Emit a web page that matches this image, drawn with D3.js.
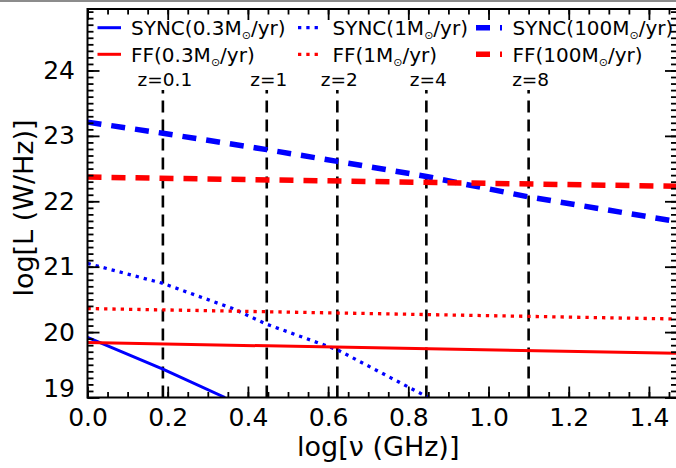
<!DOCTYPE html>
<html>
<head>
<meta charset="utf-8">
<script src="https://cdn.jsdelivr.net/npm/d3@7"></script>
<style>
  body { margin: 0; background: #fff; }
  text { font-family: "DejaVu Sans", sans-serif; }
</style>
</head>
<body>
<script>
// données : [log nu (GHz), log L (W/Hz)]
var sync03 = [[0, 19.92], [0.188, 19.435], [0.343, 19.0]]
var sync1 = [[0, 21.05], [0.188, 20.745], [0.362, 20.36], [0.447, 20.12], [0.623, 19.73], [0.85, 19.0]]
var sync100 = [[0, 23.21], [0.188, 23.04], [0.447, 22.79], [0.623, 22.61], [0.845, 22.38], [1.098, 22.07], [1.47, 21.69]]
var ff03 = [[0, 19.84], [1.47, 19.675]]
var ff1 = [[0, 20.36], [1.47, 20.20]]
var ff100 = [[0, 22.37], [1.47, 22.23]]

// raies verticales des redshifts
var zLabels = ["z=0.1", "z=1", "z=2", "z=4", "z=8"]
var zNu = [0.188, 0.447, 0.623, 0.845, 1.100]
var zTop = 23.7

// légende
var legendRates = ["0.3", "1", "100"]
var legendKinds = ["SYNC", "FF"]

var xTicks = [0.0, 0.2, 0.4, 0.6, 0.8, 1.0, 1.2, 1.4]
var yTicks = [19, 20, 21, 22, 23, 24]

var W = 676, H = 468
var canevas = d3.select("body").append("svg")
  .attr("width", W)
  .attr("height", H)

var x = d3.scaleLinear().domain([0, 1.47]).range([87.5, 677])
var y = d3.scaleLinear().domain([19, 24.94]).range([397.5, 9])

// styles : bleu = synchrotron, rouge = free-free ; plein / pointillé / tirets
var styles = [
  {w: 3, dash: null},
  {w: 3.3, dash: "3.3,5"},
  {w: 5.5, dash: "14,10"}
]
var couleurs = {SYNC: "#0000ff", FF: "#ff0000"}

var series = [
  {kind: "SYNC", s: 0, data: sync03},
  {kind: "SYNC", s: 1, data: sync1},
  {kind: "SYNC", s: 2, data: sync100},
  {kind: "FF", s: 0, data: ff03},
  {kind: "FF", s: 1, data: ff1},
  {kind: "FF", s: 2, data: ff100}
]

// trait gris en haut de l'image
canevas.append("line")
  .attr("x1", 0).attr("x2", W)
  .attr("y1", 1).attr("y2", 1)
  .attr("style", "stroke:#8c8c8c;stroke-width:2")

canevas.append("clipPath").attr("id", "zone")
  .append("rect")
  .attr("x", x.range()[0]).attr("y", y.range()[1])
  .attr("width", x.range()[1] - x.range()[0])
  .attr("height", y.range()[0] - y.range()[1])

// raies z
canevas.selectAll(".zline")
  .data(zNu)
  .enter()
  .append("line")
  .attr("class", "zline")
  .attr("x1", function(d){ return x(d) })
  .attr("x2", function(d){ return x(d) })
  .attr("y1", y(19))
  .attr("y2", y(zTop))
  .attr("style", "stroke:black;stroke-width:2.6;stroke-dasharray:12,7")

canevas.selectAll(".zlab")
  .data(zNu)
  .enter()
  .append("text")
  .attr("class", "zlab")
  .attr("x", function(d){ return x(d) + 2 })
  .attr("y", 85.5)
  .attr("text-anchor", "middle")
  .style("font-size", "18.5px")
  .text(function(d, i){ return zLabels[i] })

// courbes
var ligne = d3.line()
  .x(function(d){ return x(d[0]) })
  .y(function(d){ return y(d[1]) })

canevas.append("g")
  .attr("clip-path", "url(#zone)")
  .selectAll("path")
  .data(series)
  .enter()
  .append("path")
  .attr("d", function(d){ return ligne(d.data) })
  .attr("fill", "none")
  .attr("stroke", function(d){ return couleurs[d.kind] })
  .attr("stroke-width", function(d){ return styles[d.s].w })
  .attr("stroke-dasharray", function(d){ return styles[d.s].dash })

// axes
function styleAxe(g) {
  g.select(".domain").remove()
  g.selectAll("line").attr("stroke-width", 1.8)
  g.attr("font-family", "DejaVu Sans").attr("font-size", 25)
  g.selectAll("text").attr("fill", "black")
}

var xMinor = d3.range(0, 1.4701, 0.05)
var yMinor = d3.range(19, 24.9401, 0.1)

canevas.append("g").attr("transform", "translate(0," + y.range()[0] + ")")
  .call(d3.axisBottom(x).tickValues(xMinor).tickSize(-5.5).tickFormat(""))
  .call(styleAxe)
canevas.append("g").attr("transform", "translate(0," + y.range()[0] + ")")
  .call(d3.axisBottom(x).tickValues(xTicks).tickSize(-11).tickPadding(11).tickFormat(d3.format(".1f")))
  .call(styleAxe)
canevas.append("g").attr("transform", "translate(0," + y.range()[1] + ")")
  .call(d3.axisTop(x).tickValues(xMinor).tickSize(-5.5).tickFormat(""))
  .call(styleAxe)
canevas.append("g").attr("transform", "translate(0," + y.range()[1] + ")")
  .call(d3.axisTop(x).tickValues(xTicks).tickSize(-11).tickFormat(""))
  .call(styleAxe)

canevas.append("g").attr("transform", "translate(" + x.range()[0] + ",0)")
  .call(d3.axisLeft(y).tickValues(yMinor).tickSize(-6).tickFormat(""))
  .call(styleAxe)
var gy = canevas.append("g").attr("transform", "translate(" + x.range()[0] + ",0)")
  .call(d3.axisLeft(y).tickValues(yTicks).tickSize(-12).tickPadding(12.5).tickFormat(d3.format("d")))
  .call(styleAxe)
// le 19 du bas est remonté comme sur l'original
gy.selectAll(".tick text").filter(function(d){ return d === yTicks[0] }).attr("dy", "-0.05em")

canevas.append("g").attr("transform", "translate(" + x.range()[1] + ",0)")
  .call(d3.axisRight(y).tickValues(yMinor).tickSize(-6).tickFormat(""))
  .call(styleAxe)
canevas.append("g").attr("transform", "translate(" + x.range()[1] + ",0)")
  .call(d3.axisRight(y).tickValues(yTicks).tickSize(-12).tickFormat(""))
  .call(styleAxe)

// cadre
canevas.append("rect")
  .attr("x", x.range()[0]).attr("y", y.range()[1])
  .attr("width", x.range()[1] - x.range()[0])
  .attr("height", y.range()[0] - y.range()[1])
  .attr("style", "fill:none;stroke:black;stroke-width:2")

// titres
canevas.append("text")
  .attr("x", (x.range()[0] + x.range()[1]) / 2 - 4)
  .attr("y", 456)
  .attr("text-anchor", "middle")
  .style("font-size", "27px")
  .text("log[ν (GHz)]")

canevas.append("text")
  .attr("transform", "translate(33,208) rotate(-90)")
  .attr("text-anchor", "middle")
  .style("font-size", "27px")
  .text("log[L (W/Hz)]")

// légende
var colSample = [97.5, 298, 476]
var colLen = [23.5, 21, 26]
var colText = [131, 332.5, 512.5]
var rowY = [27.7, 54.3]

legendKinds.forEach(function(kind, r){
  legendRates.forEach(function(rate, c){
    canevas.append("line")
      .attr("x1", colSample[c]).attr("x2", colSample[c] + colLen[c])
      .attr("y1", rowY[r]).attr("y2", rowY[r])
      .attr("stroke", couleurs[kind])
      .attr("stroke-width", styles[c].w)
      .attr("stroke-dasharray", styles[c].dash)
    var t = canevas.append("text")
      .attr("x", colText[c])
      .attr("y", rowY[r] + 7.3)
      .style("font-size", "20px")
    t.append("tspan").text(kind + "(" + rate + "M")
    t.append("tspan").attr("dy", 4).style("font-size", "11px").text("⊙")
    t.append("tspan").attr("dy", -4).text("/yr)")
  })
})
</script>
</body>
</html>
